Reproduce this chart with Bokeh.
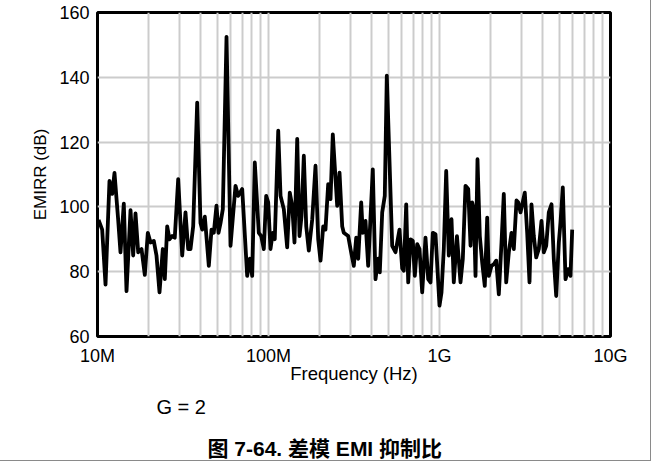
from bokeh.plotting import figure
from bokeh.models import Range1d, FixedTicker, Title
from bokeh.embed import file_html
from bokeh.resources import INLINE

# ---- data ----
freq_mhz = [10.14, 10.65, 11.14, 11.75, 12.19, 12.57, 13.21, 13.63, 14.25, 14.78,
            15.60, 16.17, 16.68, 17.30, 18.09, 18.91, 19.69, 20.42, 21.34, 22.13,
            23.05, 24.09, 24.75, 25.56, 26.36, 27.34, 28.31, 29.64, 31.28, 32.70,
            33.91, 34.99, 36.27, 38.28, 40.03, 40.96, 42.42, 44.77, 46.42, 47.87,
            49.64, 51.01, 52.41, 54.06, 56.82, 59.95, 64.12, 66.50, 70.18, 75.05,
            77.73, 80.29, 83.15, 87.76, 90.65, 93.87, 96.94, 99.59, 102.7, 105.9,
            108.8, 114.0, 117.6, 122.9, 128.6, 133.2, 137.6, 141.9, 147.2, 151.8,
            156.0, 160.9, 166.2, 172.1, 180.2, 188.3, 195.3, 201.5, 208.9, 215.4,
            223.4, 230.5, 237.7, 252.2, 260.2, 269.8, 275.6, 292.5, 301.7, 315.4,
            325.8, 334.7, 348.4, 356.0, 369.2, 382.8, 407.3, 422.4, 438.0, 447.6,
            462.3, 478.7, 491.8, 528.9, 552.9, 583.5, 605.1, 618.3, 638.8, 656.2,
            676.7, 698.0, 717.1, 740.5, 763.8, 792.1, 828.1, 858.8, 886.0, 913.8,
            947.6, 1000.0, 1027.3, 1059.5, 1094.4, 1133.4, 1175.4, 1212.3, 1265.0, 1327.0,
            1369.0, 1419.0, 1472.0, 1519.0, 1553.0, 1587.0, 1624.0, 1668.0, 1721.0, 1777.0,
            1840.0, 1901.0, 1942.0, 2014.0, 2077.0, 2146.0, 2223.0, 2305.0, 2377.0, 2455.0,
            2543.0, 2637.0, 2720.0, 2821.0, 2886.0, 2977.0, 3153.0, 3257.0, 3360.0, 3451.0,
            3560.0, 3677.0, 3808.0, 3949.0, 4073.0, 4207.0, 4357.0, 4519.0, 4661.0, 4814.0,
            4986.0, 5101.0, 5261.0, 5456.0, 5657.0, 5835.0, 5970.0]
emirr_db = [96, 93, 76, 108, 104, 110.5, 96, 86, 101, 74,
            99, 85, 98, 86, 87, 79, 92, 89, 89.5, 85,
            73.6, 87, 77.7, 94, 90, 91, 90.5, 108.6, 85, 98.3,
            87, 87, 94, 132.2, 95, 93, 97, 81.8, 93, 92,
            100.4, 92, 95, 99.3, 152.5, 88, 106.5, 103.4, 105.5, 78.7,
            84, 78.7, 113.7, 92, 91, 87, 103.4, 101.4, 87, 92,
            90, 123.5, 103.4, 99.3, 87.5, 104.4, 100.3, 89, 121, 91,
            97.2, 115.8, 94, 86.5, 96.2, 112.7, 90, 83.4, 94, 93,
            107, 102.4, 122.4, 100.3, 110.6, 94, 92, 91, 87, 81.8,
            90.5, 84, 101.4, 92, 95.7, 81.8, 111.6, 77.7, 84, 79.8,
            98.3, 103.4, 140.5, 88, 86, 93, 81, 80.3, 100.8, 76.7,
            90, 89.5, 78.7, 88.5, 87, 73.6, 90.5, 77.7, 76.7, 92,
            91.6, 69.5, 73.6, 87, 111.1, 85, 96.2, 76.7, 91, 76.7,
            84, 106.5, 105.5, 88, 101.4, 99.3, 78.7, 114.7, 91, 82.8,
            75.6, 96.7, 78.7, 81.8, 82.3, 83.4, 73, 89, 104, 76.7,
            86, 92, 87, 102, 101.4, 98.3, 104.4, 92, 76.7, 100.8,
            91, 84.4, 87, 95.7, 86, 88, 98.3, 100.8, 83.9, 72.5,
            89, 95.2, 106, 77.7, 80.8, 78.7, 93]
freq_hz = [f * 1e6 for f in freq_mhz]

x_major = [10**7, 10**8, 10**9, 10**10]
x_labels = ["10M", "100M", "1G", "10G"]
x_minor = [k * 10**e for e in (7, 8, 9) for k in range(2, 10)]
y_ticks = [60, 80, 100, 120, 140, 160]

y_title = "EMIRR (dB)"
x_title = "Frequency (Hz)"
note = "G = 2"
caption = "图 7-64. 差模 EMI 抑制比"

FONT = "Liberation Sans"
GRID = "#cccccc"

p = figure(width=650, height=460, x_axis_type="log",
           x_range=Range1d(1e7, 1e10), y_range=Range1d(60, 160),
           output_backend="svg", toolbar_location=None,
           min_border_left=97, min_border_right=40,
           min_border_top=12, min_border_bottom=124)
p.styles = {"outline": "1px solid #8a8a8a", "outline-offset": "0px"}
p.background_fill_color = "white"
p.border_fill_color = "white"
p.outline_line_color = "black"
p.outline_line_width = 3

p.line(freq_hz, emirr_db, line_color="black", line_width=3.8, line_join="round")

p.xaxis.ticker = FixedTicker(ticks=x_major, minor_ticks=x_minor)
p.xaxis.major_label_overrides = {t: l for t, l in zip(x_major, x_labels)}
p.yaxis.ticker = FixedTicker(ticks=y_ticks)

for ax in (p.xaxis[0], p.yaxis[0]):
    ax.axis_line_color = None
    ax.major_tick_line_color = None
    ax.minor_tick_line_color = None
    ax.major_tick_out = 0
    ax.major_tick_in = 0
    ax.minor_tick_out = 0
    ax.minor_tick_in = 0
    ax.major_label_text_font = FONT
    ax.major_label_text_font_size = "18px"
    ax.major_label_text_color = "black"
    ax.axis_label_text_font = FONT
    ax.axis_label_text_font_style = "normal"
    ax.axis_label_text_color = "black"
p.xaxis.major_label_standoff = 9
p.yaxis.major_label_standoff = 8

p.yaxis.axis_label = y_title
p.yaxis.axis_label_text_font_size = "17px"
p.yaxis.axis_label_standoff = 6

p.xgrid.grid_line_color = GRID
p.xgrid.grid_line_width = 2
p.xgrid.minor_grid_line_color = GRID
p.xgrid.minor_grid_line_width = 2
p.ygrid.grid_line_color = GRID
p.ygrid.grid_line_width = 2

t_xlab = Title(text=x_title, align="center", standoff=-16,
               text_font=FONT, text_font_size="18.5px", text_font_style="normal",
               text_color="black")
t_note = Title(text=note, align="left", offset=59, standoff=36,
               text_font=FONT, text_font_size="20px", text_font_style="normal",
               text_color="black")
t_cap = Title(text=caption, align="left", offset=110, standoff=-2,
              text_font="Liberation Sans, Noto Sans CJK SC", text_font_size="21px",
              text_font_style="bold", text_color="black")
p.add_layout(t_xlab, "below")
p.add_layout(t_note, "below")
p.add_layout(t_cap, "below")

open("out.html", "w").write(file_html(p, INLINE))
